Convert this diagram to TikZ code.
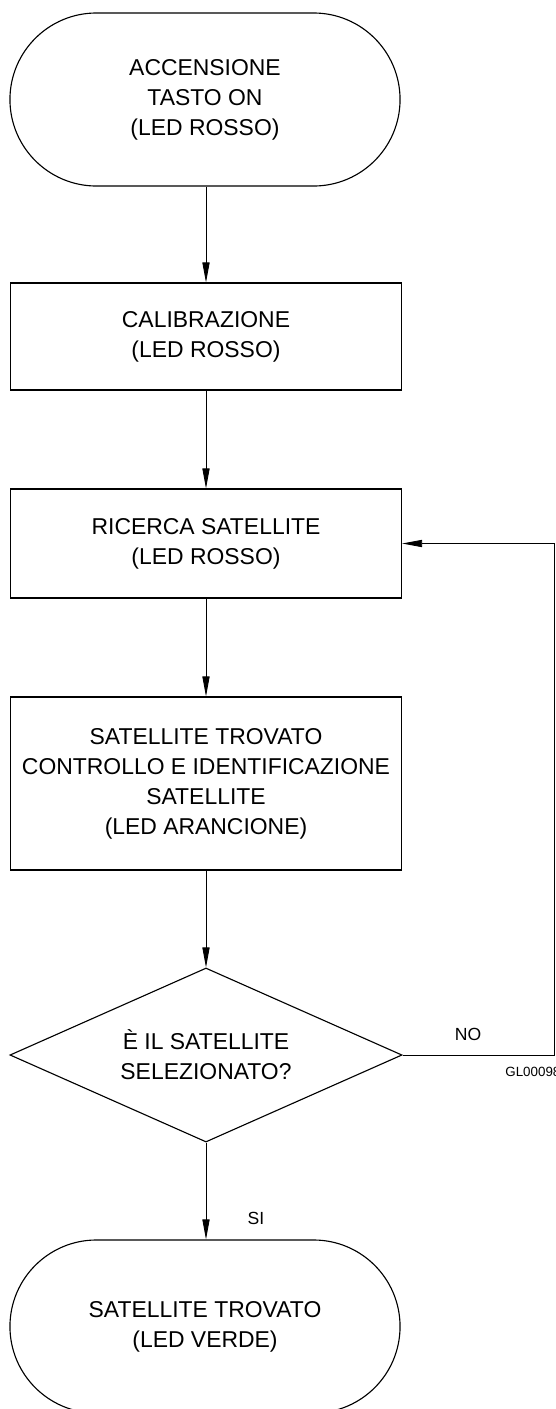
\documentclass[tikz,border=0pt]{standalone}
\usepackage{fontspec}
\setmainfont{Liberation Sans}
\usetikzlibrary{shapes.misc,shapes.geometric,arrows.meta}

\newcommand{\boxfont}{\fontsize{16.3}{21.3}\selectfont}
\newcommand{\tagfont}{\fontsize{12.5}{15}\selectfont}

\tikzset{
    terminal/.style={rounded rectangle, draw, line width=0.8pt, minimum width=9.75cm, minimum height=4.325cm, inner sep=0pt, align=center, font=\boxfont},
    process/.style={rectangle, draw, line width=0.8pt, minimum width=9.775cm, inner sep=0pt, align=center, font=\boxfont},
    decision/.style={diamond, aspect=2.25, draw, line width=0.8pt, minimum width=9.8cm, minimum height=4.35cm, inner sep=0pt, align=center, font=\boxfont},
    flowtag/.style={inner sep=0pt, font=\tagfont},
    >={Triangle[length=5mm,width=1.8mm]}
}

\begin{document}
\begin{tikzpicture}[x=0.025cm, y=-0.025cm, line width=0.6pt]
    \useasboundingbox (0,0) rectangle (556,1409);

    \node[terminal] (power) at (205,99.5) {ACCENSIONE\\TASTO ON\\(LED ROSSO)};
    \node[process, minimum height=2.675cm] (calib) at (206,336.5) {CALIBRAZIONE\\(LED ROSSO)};
    \node[process, minimum height=2.725cm] (search) at (206,543.5) {RICERCA SATELLITE\\(LED ROSSO)};
    \node[process, minimum height=4.325cm] (found) at (206,783.5) {SATELLITE TROVATO\\CONTROLLO E IDENTIFICAZIONE\\SATELLITE\\(LED ARANCIONE)};
    \node[decision] (check) at (206,1055) {È IL SATELLITE\\SELEZIONATO?};
    \node[terminal] (locked) at (205,1326.5) {SATELLITE TROVATO\\(LED VERDE)};

    \coordinate (loop) at (554,543.5);

    \draw[->] (power.south -| calib.north) -- (calib.north);
    \draw[->] (calib) -- (search);
    \draw[->] (search) -- (found);
    \draw[->] (found) -- (check);
    \draw[->] (check.south) -- (check.south |- locked.north);
    \draw[->] (check.east) -| (loop) -- (search.east);

    \node[flowtag] (no) at (468,1034) {NO};
    \node[flowtag] (yes) at (256,1218) {SI};
    \node[inner sep=0pt, anchor=west, font=\fontsize{9.5}{11}\selectfont] (code) at (505,1071.5) {GL00098};
\end{tikzpicture}
\end{document}
